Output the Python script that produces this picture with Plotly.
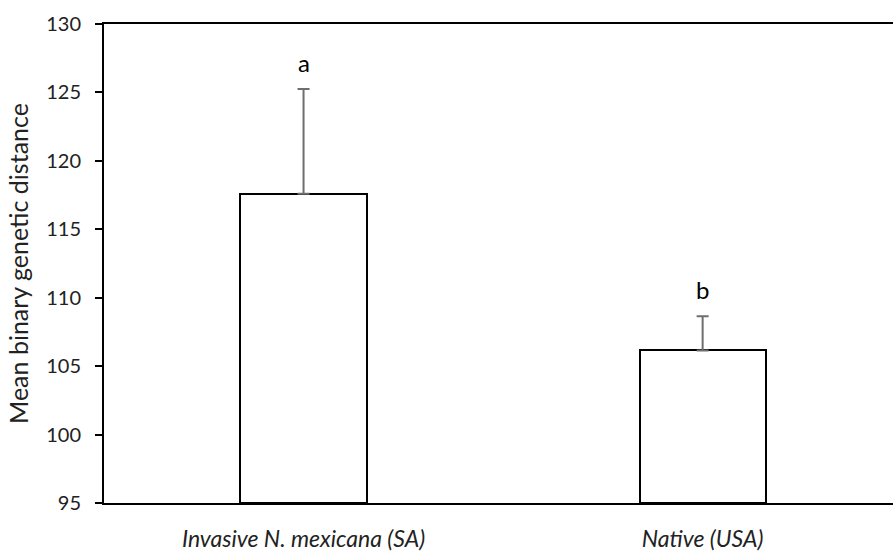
import plotly.graph_objects as go

categories = ["<i>Invasive N. mexicana (SA)</i>", "<i>Native (USA)</i>"]
means = [117.6, 106.15]
errors = [7.65, 2.5]
letters = ["a", "b"]
y_ticks = [95, 100, 105, 110, 115, 120, 125, 130]

FONT = "Lato"

fig = go.Figure()
fig.add_trace(go.Bar(
    x=[0, 1], y=[m - 95 for m in means], base=95,
    width=0.316,
    marker=dict(color="white", line=dict(color="black", width=2)),
    error_y=dict(type="data", array=errors, symmetric=False, arrayminus=[0, 0],
                 color="#6e6e6e", thickness=2, width=6),
    showlegend=False,
    hoverinfo="skip",
))

for i, (m, e, l) in enumerate(zip(means, errors, letters)):
    fig.add_annotation(x=i, y=m + e, text=l, showarrow=False, yshift=27,
                       yanchor="middle",
                       font=dict(family=FONT, size=24, color="black"))

fig.update_layout(
    width=893, height=552,
    margin=dict(l=104, r=0, t=24, b=43),
    paper_bgcolor="white", plot_bgcolor="white",
    font=dict(family=FONT, size=20, color="#222"),
    bargap=0,
)
fig.update_xaxes(
    range=[-0.5, 1.477], tickvals=[0, 1], ticktext=categories,
    showline=True, linecolor="black", linewidth=2, mirror=True,
    ticks="", showgrid=False, zeroline=False,
    ticklabelstandoff=14,
    tickfont=dict(family=FONT, size=23, color="#222"),
)
fig.update_yaxes(
    range=[95, 130], tickvals=y_ticks,
    showline=True, linecolor="black", linewidth=2,
    ticks="outside", ticklen=7, tickwidth=2, tickcolor="black",
    showgrid=False, zeroline=False,
    ticklabelstandoff=10,
    tickfont=dict(family=FONT, size=20, color="#222"),
    title=dict(text="Mean binary genetic distance", font=dict(family=FONT, size=25, color="#222"), standoff=10),
)

fig.write_html("out.html", config={"displayModeBar": False},
               post_script="document.body.style.margin='0px';document.body.style.overflow='hidden';")
